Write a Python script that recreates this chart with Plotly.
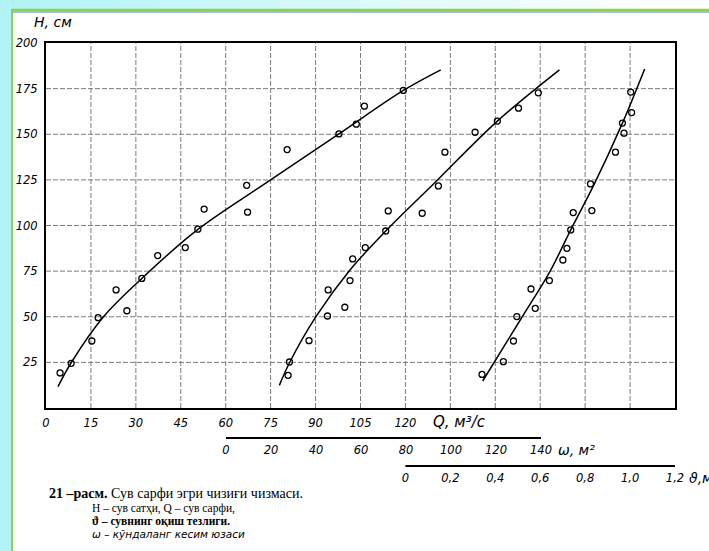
import plotly.graph_objects as go

# ---------------- data ----------------
# H versus discharge Q (m3/s)
q_pts = [4.7, 8.4, 15.3, 17.4, 23.4, 27.0, 32.0, 37.3, 46.5, 50.7, 52.8, 67.0, 67.3, 80.5, 97.8, 103.6, 106.3, 119.3]
h_q_pts = [19.2, 24.5, 36.7, 49.5, 64.7, 53.3, 71.0, 83.5, 87.9, 98.0, 109.0, 122.0, 107.3, 141.6, 150.2, 155.5, 165.4, 174.0]
q_curve = [4.0, 8.4, 19.2, 32.0, 50.5, 72.5, 97.8, 119.3, 131.8]
h_q_curve = [11.7, 24.8, 50.0, 71.0, 97.6, 122.3, 150.2, 174.0, 185.3]

# H versus cross-section area omega (m2)
w_pts = [27.6, 28.2, 36.9, 45.1, 45.4, 52.8, 55.1, 56.3, 61.9, 71.0, 72.1, 87.2, 94.4, 97.3, 110.7, 120.6, 130.0, 138.8]
h_w_pts = [17.9, 25.2, 36.9, 50.4, 64.7, 55.2, 69.8, 81.7, 87.9, 97.0, 108.0, 106.7, 121.7, 140.2, 151.1, 157.2, 164.3, 172.7]
w_curve = [23.7, 28.4, 39.9, 55.1, 71.0, 92.9, 120.6, 148.2]
h_w_curve = [12.4, 25.2, 49.9, 75.6, 97.0, 123.6, 157.2, 185.3]

# H versus velocity v (m/s)
v_pts = [0.341, 0.436, 0.481, 0.496, 0.559, 0.578, 0.641, 0.701, 0.719, 0.736, 0.747, 0.830, 0.824, 0.935, 0.973, 0.966, 1.007, 1.003]
h_v_pts = [18.4, 25.4, 36.7, 50.1, 65.2, 54.6, 69.8, 81.1, 87.5, 97.6, 107.1, 108.2, 122.8, 140.2, 150.6, 156.1, 161.9, 173.1]
v_curve = [0.344, 0.52, 0.64, 0.736, 0.84, 0.966, 1.065]
h_v_curve = [14.8, 50.0, 74.0, 97.6, 122.5, 156.1, 185.8]

# tick labels
q_ticks = [0, 15, 30, 45, 60, 75, 90, 105, 120, 135, 150, 165, 180, 195, 210]
q_ticktext = ['0', '15', '30', '45', '60', '75', '90', '105', '120', '', '', '', '', '', '']
h_ticks = [0, 25, 50, 75, 100, 125, 150, 175, 200]
h_ticktext = ['', '25', '50', '75', '100', '125', '150', '175', '200']
w_ticks = [0, 20, 40, 60, 80, 100, 120, 140]
w_ticktext = ['0', '20', '40', '60', '80', '100', '120', '140']
v_ticks = [0, 0.2, 0.4, 0.6, 0.8, 1.0, 1.2]
v_ticktext = ['0', '0,2', '0,4', '0,6', '0,8', '1,0', '1,2']

# ---------------- layout geometry (pixels) ----------------
W, H = 709, 551
ML, MR, MT = 46, 34, 43
PAPER_BOTTOM = 480
MB = H - PAPER_BOTTOM
PW = W - ML - MR
PH = PAPER_BOTTOM - MT
PLOT_BOTTOM = 408


def fx(px):
    return (px - ML) / PW


def fy(py):
    return (PAPER_BOTTOM - py) / PH


W_AXIS_Y = 438
V_AXIS_Y = 466

tickfont = dict(family='DejaVu Sans', size=11.5, color='black', style='italic')
pt_marker = dict(symbol='circle-open', size=6, color='black', line=dict(width=1.3, color='black'))
curve_line = dict(color='black', width=1.5, shape='spline')

fig = go.Figure()
fig.add_trace(go.Scatter(x=q_curve, y=h_q_curve, mode='lines', line=curve_line, xaxis='x', yaxis='y'))
fig.add_trace(go.Scatter(x=q_pts, y=h_q_pts, mode='markers', marker=pt_marker, xaxis='x', yaxis='y'))
fig.add_trace(go.Scatter(x=w_curve, y=h_w_curve, mode='lines', line=curve_line, xaxis='x2', yaxis='y'))
fig.add_trace(go.Scatter(x=w_pts, y=h_w_pts, mode='markers', marker=pt_marker, xaxis='x2', yaxis='y'))
fig.add_trace(go.Scatter(x=v_curve, y=h_v_curve, mode='lines', line=curve_line, xaxis='x3', yaxis='y'))
fig.add_trace(go.Scatter(x=v_pts, y=h_v_pts, mode='markers', marker=pt_marker, xaxis='x3', yaxis='y'))

fig.update_layout(
    width=W, height=H,
    margin=dict(l=ML, r=MR, t=MT, b=MB, pad=0),
    paper_bgcolor='white', plot_bgcolor='white',
    showlegend=False,
    xaxis=dict(range=[0, 210], tickmode='array', tickvals=q_ticks, ticktext=q_ticktext,
               showline=True, linecolor='black', linewidth=2, mirror=True, zeroline=False,
               showgrid=False, ticks='', tickfont=tickfont, ticklabelstandoff=3, anchor='y'),
    yaxis=dict(range=[0, 200], domain=[fy(PLOT_BOTTOM), 1], tickmode='array', tickvals=h_ticks,
               ticktext=h_ticktext, showline=True, linecolor='black', linewidth=2, mirror=True,
               zeroline=False, showgrid=False, ticks='', tickfont=tickfont, ticklabelstandoff=4),
    xaxis2=dict(overlaying='x', anchor='free', position=fy(W_AXIS_Y), side='bottom',
                range=[(ML - 226) / 2.25, (ML + PW - 226) / 2.25], tickmode='array',
                tickvals=w_ticks, ticktext=w_ticktext, showgrid=False, showline=False,
                zeroline=False, ticks='', tickfont=tickfont, ticklabelstandoff=3),
    xaxis3=dict(overlaying='x', anchor='free', position=fy(V_AXIS_Y), side='bottom',
                range=[-1.6, 1.2001], tickmode='array', tickvals=v_ticks, ticktext=v_ticktext,
                showgrid=False, showline=False, zeroline=False, ticks='', tickfont=tickfont,
                ticklabelstandoff=3),
)

shapes = []
# dashed grid drawn from the Q / H tick arrays
grid_line = dict(color='#7c7c7c', width=1, dash='5px,2px')
for q in q_ticks[1:-1]:
    shapes.append(dict(type='line', xref='x', yref='y', x0=q, x1=q, y0=h_ticks[0], y1=h_ticks[-1],
                       line=grid_line, layer='below'))
for h in h_ticks[1:-1]:
    shapes.append(dict(type='line', xref='x', yref='y', x0=q_ticks[0], x1=q_ticks[-1], y0=h, y1=h,
                       line=grid_line, layer='below'))
# decorative page frame (cyan background, green/blue border)
cyan = '178,243,248'
steps = 16
for i in range(steps):
    x0 = i * 640 / steps
    x1 = (i + 1) * 640 / steps
    op = max(0.0, 1 - i / steps)
    shapes.append(dict(type='rect', xref='paper', yref='paper', x0=fx(x0), x1=fx(x1), y0=fy(10), y1=fy(0),
                       fillcolor=f'rgba({cyan},{op:.3f})', line=dict(width=0), layer='below'))
shapes.append(dict(type='rect', xref='paper', yref='paper', x0=fx(0), x1=fx(11), y0=fy(H), y1=fy(0),
                   fillcolor=f'rgb({cyan})', line=dict(width=0), layer='below'))
shapes.append(dict(type='line', xref='paper', yref='paper', x0=fx(11), x1=fx(W), y0=fy(10), y1=fy(10),
                   line=dict(color='#8fd14f', width=2.5)))
shapes.append(dict(type='line', xref='paper', yref='paper', x0=fx(11), x1=fx(W), y0=fy(12), y1=fy(12),
                   line=dict(color='#4f86c6', width=1.2)))
shapes.append(dict(type='line', xref='paper', yref='paper', x0=fx(12), x1=fx(12), y0=fy(H), y1=fy(9),
                   line=dict(color='#8fd14f', width=2)))
# secondary scale lines
shapes.append(dict(type='line', xref='x2', yref='paper', x0=w_ticks[0], x1=w_ticks[-1],
                   y0=fy(W_AXIS_Y), y1=fy(W_AXIS_Y), line=dict(color='black', width=2)))
shapes.append(dict(type='line', xref='x3', yref='paper', x0=v_ticks[0], x1=v_ticks[-1],
                   y0=fy(V_AXIS_Y), y1=fy(V_AXIS_Y), line=dict(color='black', width=2)))
fig.update_layout(shapes=shapes)

ann_font = dict(family='DejaVu Sans', color='black', style='italic')
serif = 'Liberation Serif'
annotations = [
    dict(text='H, см', x=fx(32), y=fy(22), xanchor='left', yanchor='middle',
         font=dict(size=14, **ann_font)),
    dict(text='Q, м³/с', x=fx(431), y=fy(422), xanchor='left', yanchor='middle',
         font=dict(size=15, **ann_font)),
    dict(text='ω, м²', x=fx(556), y=fy(450), xanchor='left', yanchor='middle',
         font=dict(size=14, **ann_font)),
    dict(text='ϑ,м/с', x=fx(687), y=fy(478), xanchor='left', yanchor='middle',
         font=dict(size=14, **ann_font)),
    dict(text='<b>21 –расм.</b> Сув сарфи эгри чизиғи чизмаси.', x=fx(47), y=fy(494),
         xanchor='left', yanchor='middle', font=dict(family=serif, size=14, color='black')),
    dict(text='Н – сув сатҳи, Q – сув сарфи,', x=fx(90), y=fy(508),
         xanchor='left', yanchor='middle', font=dict(family=serif, size=11.5, color='black')),
    dict(text='<b>ϑ – сувнинг оқиш тезлиги.</b>', x=fx(90), y=fy(521),
         xanchor='left', yanchor='middle', font=dict(family=serif, size=11.5, color='black')),
    dict(text='ω – кўндаланг кесим юзаси', x=fx(90), y=fy(534),
         xanchor='left', yanchor='middle', font=dict(size=10.5, **ann_font)),
]
for a in annotations:
    a.update(xref='paper', yref='paper', showarrow=False)
fig.update_layout(annotations=annotations)

fig.write_html('out.html')
